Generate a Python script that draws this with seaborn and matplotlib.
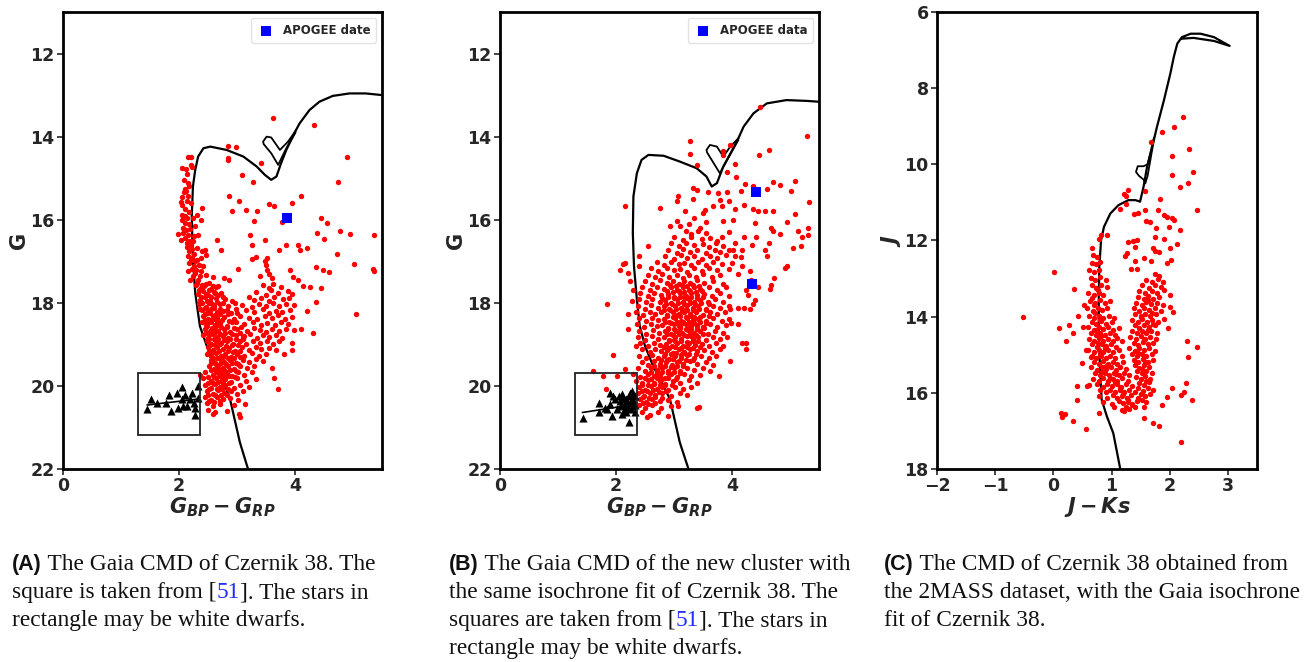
import matplotlib
matplotlib.use("Agg")
import matplotlib.pyplot as plt
import seaborn as sns
import numpy as np
import pandas as pd
from matplotlib.patches import Rectangle

# ---------------- DATA ----------------
# Panel A : Gaia CMD of Czernik 38
a_red = [
    (3.62,13.56),(4.32,13.72),(2.85,14.22),(2.99,14.24),(2.85,14.52),(2.84,14.57),(3.42,14.64),(4.89,14.50),
    (3.09,14.92),(3.28,15.10),(4.74,15.10),(4.10,15.42),(2.86,15.44),(3.03,15.55),(3.55,15.62),(3.63,15.68),
    (3.95,15.60),(3.16,15.76),(3.35,15.80),(2.91,15.80),(3.30,16.02),(3.78,16.06),(4.45,15.96),(4.55,16.08),
    (4.77,16.28),(4.94,16.34),(4.38,16.32),(5.37,16.36),(3.23,16.36),(3.49,16.48),(2.65,16.48),(4.50,16.46),
    (3.25,16.62),(3.84,16.62),(4.05,16.60),(4.20,16.68),(4.09,16.72),(3.73,16.72),(2.72,16.74),(4.73,16.82),
    (3.32,16.90),(3.26,16.94),(3.51,16.92),(5.01,17.06),(4.37,17.14),(4.48,17.22),(4.58,17.26),(5.34,17.18),
    (5.36,17.24),(3.91,17.22),(3.01,17.18),(3.97,17.38),(4.06,17.44),(4.14,17.60),(4.26,17.62),(4.45,17.65),
    (2.59,17.38),(2.78,17.40),(2.87,17.46),(4.37,17.98),(4.21,18.20),(5.06,18.28),(4.11,18.62),(3.99,18.66),
    (4.31,18.72),(3.94,18.96),(3.95,19.14),(3.81,19.22),(3.12,18.80),(3.64,19.82),(3.70,20.08),(3.14,20.43),
    (3.03,20.68),(3.05,20.76),(2.59,20.68),(2.36,19.74),
    (3.48,17.00),(3.50,17.10),(3.52,17.20),(3.55,17.30),(3.40,17.35),(3.60,17.40),
    # upper main sequence strip
    (2.15,14.48),(2.21,14.48),(2.05,14.76),(2.12,14.78),(2.20,14.68),(2.23,14.72),(2.13,14.90),(2.08,15.04),
    (2.15,15.12),(2.08,15.34),(2.12,15.32),(2.15,15.44),(2.03,15.58),(2.06,15.64),(2.13,15.56),(2.39,15.72),
    (2.10,15.74),(2.17,15.81),(2.06,15.88),(2.31,15.88),(2.38,16.00),(2.14,15.96),(2.11,16.08),(2.18,16.10),
    (2.28,16.14),(1.99,16.34),(2.07,16.32),(2.15,16.36),(2.25,16.40),(2.33,16.36),(2.03,16.48),(2.13,16.56),
    (2.20,16.60),(2.31,16.68),(2.39,16.76),(2.45,16.74),(2.47,16.84),(2.18,16.76),(2.15,16.88),(2.22,16.92),
    (2.31,16.96),(2.38,16.92),(2.18,17.04),(2.25,17.12),(2.34,17.08),(2.42,17.12),(2.16,17.24),(2.28,17.28),
    (2.36,17.36),(2.46,17.32),(2.19,17.44),(2.31,17.52),(2.40,17.58),(2.51,17.52),(2.59,17.60),(2.62,17.76),
    (2.07,16.20),(2.12,16.25),(2.19,16.22),(2.10,16.45),(2.17,16.50),(2.24,16.52),(2.14,16.65),(2.22,16.70),
    (2.26,16.82),(2.20,16.98),(2.28,17.00),(2.22,17.18),(2.30,17.20),(2.38,17.24),(2.24,17.36),(2.33,17.44),
    (2.10,15.25),(2.18,15.20),(2.06,15.45),(2.20,15.60),(2.10,15.90),(2.24,15.95),(2.05,16.00),
    # dense part
    (2.30,17.57),(2.38,17.64),(2.47,17.55),(2.55,17.66),(2.68,17.60),(3.45,17.58),(3.55,17.65),(3.62,17.54),(3.75,17.62),
    (2.33,17.78),(2.42,17.71),(2.50,17.80),(2.60,17.73),(2.72,17.77),(3.33,17.74),(3.50,17.80),(3.58,17.70),(3.70,17.76),(3.88,17.72),(3.95,17.79),
    (2.36,17.93),(2.44,17.86),(2.53,17.95),(2.63,17.88),(2.80,17.92),(3.20,17.87),(3.30,17.94),(3.42,17.89),(3.55,17.96),(3.63,17.86),(3.80,17.92),(3.90,17.88),
    (2.35,18.02),(2.46,18.09),(2.52,18.00),(2.60,18.07),(2.70,18.03),(2.85,18.08),(2.96,18.01),(3.08,18.06),(3.26,18.10),(3.38,18.02),(3.50,18.07),(3.62,18.00),(3.72,18.08),(3.85,18.03),(3.98,18.06),
    (2.40,18.18),(2.48,18.24),(2.56,18.16),(2.65,18.23),(2.75,18.19),(2.90,18.25),(3.15,18.17),(3.30,18.22),(3.45,18.16),(3.55,18.24),(3.68,18.19),(3.78,18.23),(3.92,18.17),
    (2.42,18.32),(2.50,18.39),(2.58,18.31),(2.66,18.37),(2.78,18.33),(2.95,18.38),(3.05,18.31),(3.20,18.36),(3.35,18.40),(3.48,18.32),(3.60,18.37),(3.70,18.30),(3.82,18.38),(3.95,18.34),
    (2.40,18.47),(2.47,18.54),(2.55,18.46),(2.62,18.53),(2.70,18.48),(2.82,18.55),(2.92,18.47),(3.12,18.52),(3.28,18.45),(3.42,18.53),(3.52,18.48),(3.65,18.54),(3.75,18.46),(3.88,18.51),
    (2.45,18.62),(2.53,18.69),(2.60,18.61),(2.68,18.67),(2.78,18.63),(2.88,18.70),(3.00,18.62),(3.18,18.68),(3.30,18.61),(3.40,18.66),(3.50,18.70),(3.60,18.62),(3.72,18.67),(3.85,18.63),
    (2.42,18.78),(2.50,18.84),(2.58,18.76),(2.66,18.83),(2.75,18.79),(2.85,18.85),(2.98,18.77),(3.10,18.82),(3.22,18.76),(3.35,18.84),(3.45,18.78),(3.55,18.83),(3.68,18.77),(3.78,18.84),
    (2.48,18.92),(2.56,18.99),(2.64,18.91),(2.72,18.97),(2.82,18.93),(2.93,19.00),(3.05,18.92),(3.15,18.98),(3.28,18.91),(3.40,18.96),(3.52,18.93),(3.62,18.99),(3.72,18.92),
    (2.50,19.07),(2.58,19.14),(2.66,19.06),(2.76,19.12),(2.86,19.08),(2.97,19.15),(3.08,19.07),(3.20,19.13),(3.32,19.06),(3.42,19.12),(3.55,19.08),(3.68,19.14),
    (2.48,19.22),(2.55,19.29),(2.63,19.21),(2.72,19.27),(2.80,19.23),(2.90,19.30),(3.00,19.22),(3.12,19.28),(3.25,19.21),(3.38,19.27),(3.50,19.24),
    (2.55,19.37),(2.62,19.44),(2.70,19.36),(2.78,19.42),(2.88,19.38),(2.98,19.45),(3.10,19.37),(3.20,19.43),(3.32,19.36),(3.45,19.41),
    (2.52,19.52),(2.60,19.59),(2.68,19.51),(2.76,19.57),(2.85,19.53),(2.95,19.60),(3.05,19.52),(3.18,19.58),(3.30,19.51),(3.60,19.56),
    (2.45,19.67),(2.58,19.74),(2.66,19.66),(2.74,19.72),(2.82,19.68),(2.92,19.75),(3.02,19.67),(3.12,19.73),(3.25,19.66),
    (2.42,19.82),(2.55,19.89),(2.64,19.81),(2.72,19.87),(2.80,19.83),(2.90,19.90),(3.00,19.82),(3.15,19.88),(3.32,19.84),
    (2.45,19.97),(2.55,20.04),(2.62,19.96),(2.70,20.02),(2.80,19.98),(2.95,20.05),(3.05,19.97),(3.20,20.03),
    (2.48,20.12),(2.58,20.19),(2.68,20.11),(2.78,20.17),(2.90,20.13),(3.00,20.20),(3.10,20.12),
    (2.45,20.27),(2.55,20.34),(2.65,20.26),(2.75,20.32),(2.88,20.28),(3.02,20.33),
    (2.48,20.42),(2.58,20.49),(2.70,20.43),(2.95,20.47),
    (2.50,20.58),(2.62,20.64),(2.82,20.60),
    (2.34,17.68),(2.43,17.60),(2.51,17.70),(2.64,17.62),
    (2.38,17.85),(2.47,17.78),(2.56,17.86),(2.67,17.80),(2.76,17.86),
    (2.40,18.00),(2.49,17.95),(2.57,18.02),(2.66,17.97),(2.76,18.00),(2.91,17.96),
    (2.37,18.14),(2.44,18.12),(2.52,18.20),(2.61,18.13),(2.70,18.14),(2.82,18.18),(2.98,18.14),
    (2.45,18.28),(2.54,18.25),(2.62,18.29),(2.71,18.26),(2.84,18.28),(3.00,18.25),
    (2.44,18.42),(2.51,18.45),(2.59,18.40),(2.66,18.44),(2.74,18.41),(2.87,18.43),(2.99,18.45),
    (2.49,18.57),(2.57,18.60),(2.64,18.57),(2.73,18.59),(2.83,18.58),(2.95,18.60),(3.07,18.58),
    (2.46,18.72),(2.54,18.75),(2.62,18.71),(2.70,18.74),(2.80,18.72),(2.92,18.74),(3.05,18.72),
    (2.52,18.87),(2.60,18.88),(2.68,18.86),(2.77,18.89),(2.88,18.87),(2.99,18.88),(3.10,18.87),
    (2.54,19.02),(2.62,19.02),(2.71,19.00),(2.81,19.03),(2.91,19.02),(3.02,19.01),
    (2.52,19.17),(2.60,19.18),(2.69,19.17),(2.84,19.17),(2.93,19.19),(3.05,19.16),
    (2.58,19.32),(2.66,19.33),(2.75,19.31),(2.84,19.34),(2.94,19.32),(3.05,19.30),
    (2.56,19.46),(2.64,19.48),(2.73,19.46),(2.81,19.48),(2.91,19.46),(3.02,19.47),
    (2.55,19.62),(2.63,19.63),(2.71,19.61),(2.79,19.64),(2.88,19.62),(2.98,19.63),
    (2.50,19.78),(2.60,19.78),(2.69,19.76),(2.77,19.79),(2.86,19.77),(2.96,19.78),
    (2.50,19.92),(2.59,19.93),(2.67,19.91),(2.75,19.94),(2.86,19.92),
    (2.52,20.07),(2.65,20.07),(2.74,20.08),(2.84,20.07),
    (2.50,20.22),(2.62,20.22),(2.72,20.23),(2.83,20.22),
    (2.52,20.37),(2.60,20.38),(2.70,20.36),
]
a_wd = [(1.45,20.56),(1.52,20.32),(1.62,20.40),(1.77,20.42),(1.83,20.22),(1.86,20.60),(1.96,20.16),(2.05,20.02),
        (2.07,20.48),(1.99,20.52),(2.11,20.22),(2.13,20.48),(2.23,20.18),(2.25,20.40),(2.28,20.52),(2.27,20.70),
        (2.33,20.00),(2.32,20.28),(2.05,20.32),(2.19,20.32)]
a_apogee = [(3.86,15.97)]
a_iso_x = [3.19,3.05,2.88,2.71,2.48,2.36,2.28,2.24,2.22,2.24,2.28,2.33,2.42,2.54,2.82,3.11,3.34,3.48,3.59,3.68,3.76,3.85,4.01,
           4.08,4.25,4.42,4.65,4.94,5.22,5.50]
a_iso_y = [22.0,21.36,20.32,19.68,19.04,18.56,17.76,16.96,15.92,15.20,14.80,14.48,14.28,14.24,14.32,14.48,14.72,14.92,15.04,14.96,14.64,14.32,13.86,
           13.68,13.36,13.16,13.02,12.96,12.96,13.00]
a_loop_x = [4.01,3.88,3.74,3.59,3.51,3.45,3.46,3.59,3.71,3.85,4.01]
a_loop_y = [13.86,14.12,14.32,14.02,14.00,14.12,14.18,14.40,14.68,14.28,13.90]
a_wd_line_x = [1.45, 2.31]
a_wd_line_y = [20.46, 20.32]

# Panel B : new cluster
b_red = [
    (4.48,13.28),(5.29,13.98),(3.28,14.10),(3.28,14.42),(3.85,14.34),(3.84,14.44),(3.97,14.20),(4.63,14.32),(4.47,14.44),
    (3.39,14.68),(4.05,14.66),(3.91,14.84),(4.07,14.96),(4.22,15.14),(4.37,15.18),(4.71,15.10),(4.83,15.16),(5.09,15.06),
    (3.33,15.24),(3.39,15.28),(3.59,15.34),(3.76,15.36),(3.92,15.34),(4.16,15.32),(4.61,15.26),(5.02,15.32),(3.07,15.44),
    (3.06,15.56),(3.32,15.50),(3.79,15.52),(3.95,15.56),(4.21,15.64),(5.32,15.58),(3.53,15.76),(3.68,15.68),(3.82,15.68),
    (4.06,15.74),(4.37,15.74),(4.45,15.80),(4.57,15.80),(4.71,15.80),(2.76,15.72),(3.19,15.80),(5.09,15.86),(2.56,16.64),
    (2.16,15.68),(2.93,16.16),(3.05,16.04),(3.85,16.04),(4.01,16.00),(4.39,16.08),(4.94,16.06),(4.68,16.20),(4.70,16.28),
    (5.31,16.20),(5.14,16.26),(4.82,16.34),(4.20,16.42),(4.41,16.42),(5.20,16.42),(5.31,16.36),(4.63,16.56),(4.34,16.60),
    (4.18,16.72),(4.02,16.72),(5.19,16.64),(5.05,16.68),(4.57,16.74),(4.05,16.88),(4.60,16.88),(4.18,17.12),(4.91,17.16),
    (4.94,17.12),(4.31,17.24),(4.32,17.44),(4.73,17.40),(4.68,17.56),(4.44,17.62),(4.66,17.66),(4.25,17.68),(4.28,17.80),
    (4.40,17.94),(4.37,18.04),(4.31,18.16),(4.11,18.12),(4.20,18.12),(3.97,18.16),(4.11,18.52),(3.99,18.48),(4.17,18.96),
    (4.24,19.12),(4.25,18.96),(3.97,19.40),(3.78,19.76),(1.84,18.02),(1.95,19.26),(1.61,19.64),(1.78,19.76),(2.01,19.76),
    (2.16,19.60),(1.83,20.08),(3.39,20.52),(3.43,20.50),(3.07,20.48),(2.90,20.72),(2.53,20.76),(2.07,17.22),(2.16,17.04),
    (2.12,17.06),(2.21,17.28),(2.24,17.48),(2.39,16.88),(2.40,17.12),(2.30,17.68),(2.27,17.96),(2.20,18.28),(2.21,18.64),(2.34,19.04),
    (3.25,16.10),(3.35,15.95),(3.45,16.20),(3.10,16.15),(3.55,16.05),(3.50,15.85),(3.95,16.30),(4.05,16.55),(4.15,16.90),(4.10,17.30),(4.00,17.05),
    # dense cloud
    (3.20,16.27),(3.30,16.34),(3.42,16.26),(3.55,16.33),
    (3.00,16.42),(3.15,16.49),(3.30,16.41),(3.48,16.47),(3.62,16.43),(3.75,16.50),(3.82,16.41),
    (2.95,16.57),(3.08,16.64),(3.20,16.56),(3.35,16.62),(3.50,16.58),(3.60,16.65),(3.72,16.57),(3.85,16.63),
    (2.90,16.72),(3.05,16.79),(3.15,16.71),(3.28,16.77),(3.40,16.73),(3.55,16.80),(3.70,16.72),(3.80,16.78),(3.95,16.74),
    (2.85,16.87),(3.00,16.94),(3.12,16.86),(3.22,16.92),(3.35,16.88),(3.48,16.95),(3.62,16.87),(3.75,16.93),(3.90,16.86),
    (2.70,17.02),(2.82,17.09),(2.95,17.01),(3.08,17.07),(3.18,17.03),(3.30,17.10),(3.42,17.02),(3.55,17.08),(3.68,17.01),(3.82,17.06),
    (2.60,17.17),(2.72,17.24),(2.88,17.16),(3.00,17.22),(3.10,17.18),(3.22,17.25),(3.35,17.17),(3.48,17.23),(3.60,17.16),(3.75,17.22),(3.95,17.18),
    (2.55,17.32),(2.68,17.39),(2.80,17.31),(2.92,17.37),(3.05,17.33),(3.15,17.40),(3.25,17.32),(3.38,17.38),(3.50,17.31),(3.65,17.37),(3.80,17.33),
    (2.50,17.47),(2.62,17.54),(2.75,17.46),(2.88,17.52),(2.98,17.48),(3.08,17.55),(3.18,17.47),(3.28,17.53),(3.40,17.46),(3.52,17.52),(3.68,17.48),(3.85,17.54),
    (2.45,17.62),(2.58,17.69),(2.70,17.61),(2.82,17.67),(2.95,17.63),(3.05,17.70),(3.15,17.62),(3.25,17.68),(3.35,17.61),(3.45,17.67),(3.60,17.63),(3.75,17.69),(3.90,17.62),
    (2.42,17.77),(2.55,17.84),(2.65,17.76),(2.78,17.82),(2.90,17.78),(3.00,17.85),(3.10,17.77),(3.20,17.83),(3.30,17.76),(3.40,17.82),(3.52,17.78),(3.65,17.84),(3.80,17.77),(3.95,17.83),
    (2.40,17.92),(2.52,17.99),(2.62,17.91),(2.75,17.97),(2.85,17.93),(2.95,18.00),(3.05,17.92),(3.15,17.98),(3.25,17.91),(3.35,17.97),(3.45,17.93),(3.58,17.99),(3.70,17.92),(3.85,17.98),
    (2.38,18.07),(2.50,18.14),(2.60,18.06),(2.72,18.12),(2.82,18.08),(2.92,18.15),(3.02,18.07),(3.12,18.13),(3.22,18.06),(3.32,18.12),(3.42,18.08),(3.55,18.14),(3.68,18.07),(3.80,18.13),(3.95,18.08),
    (2.35,18.22),(2.46,18.29),(2.58,18.21),(2.68,18.27),(2.78,18.23),(2.88,18.30),(2.98,18.22),(3.08,18.28),(3.18,18.21),(3.28,18.27),(3.38,18.23),(3.50,18.29),(3.62,18.22),(3.75,18.28),(3.88,18.23),
    (2.40,18.37),(2.52,18.44),(2.62,18.36),(2.72,18.42),(2.82,18.38),(2.92,18.45),(3.02,18.37),(3.12,18.43),(3.22,18.36),(3.32,18.42),(3.42,18.38),(3.55,18.44),(3.68,18.37),(3.82,18.43),(3.95,18.38),
    (2.36,18.52),(2.48,18.59),(2.60,18.51),(2.70,18.57),(2.80,18.53),(2.90,18.60),(3.00,18.52),(3.10,18.58),(3.20,18.51),(3.30,18.57),(3.40,18.53),(3.50,18.59),(3.62,18.52),(3.75,18.58),(3.90,18.53),
    (2.40,18.67),(2.52,18.74),(2.64,18.66),(2.74,18.72),(2.84,18.68),(2.94,18.75),(3.04,18.67),(3.14,18.73),(3.24,18.66),(3.34,18.72),(3.45,18.68),(3.58,18.74),(3.70,18.67),(3.85,18.73),
    (2.38,18.82),(2.50,18.89),(2.62,18.81),(2.72,18.87),(2.82,18.83),(2.92,18.90),(3.02,18.82),(3.12,18.88),(3.22,18.81),(3.32,18.87),(3.42,18.83),(3.55,18.89),(3.68,18.82),(3.80,18.88),(3.92,18.83),
    (2.42,18.97),(2.55,19.04),(2.66,18.96),(2.76,19.02),(2.86,18.98),(2.96,19.05),(3.06,18.97),(3.16,19.03),(3.26,18.96),(3.36,19.02),(3.48,18.98),(3.60,19.04),(3.72,18.97),(3.85,19.03),
    (2.45,19.12),(2.58,19.19),(2.68,19.11),(2.78,19.17),(2.88,19.13),(2.98,19.20),(3.08,19.12),(3.18,19.18),(3.28,19.11),(3.40,19.17),(3.52,19.13),(3.65,19.19),(3.80,19.12),
    (2.40,19.27),(2.52,19.34),(2.62,19.26),(2.72,19.32),(2.82,19.28),(2.92,19.35),(3.02,19.27),(3.12,19.33),(3.22,19.26),(3.34,19.32),(3.46,19.28),(3.60,19.34),(3.72,19.27),
    (2.45,19.42),(2.56,19.49),(2.66,19.41),(2.76,19.47),(2.86,19.43),(2.96,19.50),(3.06,19.42),(3.16,19.48),(3.28,19.41),(3.40,19.47),(3.55,19.43),(3.68,19.49),
    (2.38,19.57),(2.50,19.64),(2.60,19.56),(2.70,19.62),(2.80,19.58),(2.90,19.65),(3.00,19.57),(3.10,19.63),(3.22,19.56),(3.35,19.62),(3.50,19.58),(3.62,19.64),
    (2.30,19.72),(2.42,19.79),(2.55,19.71),(2.65,19.77),(2.75,19.73),(2.85,19.80),(2.95,19.72),(3.05,19.78),(3.18,19.71),(3.30,19.77),(3.45,19.73),
    (2.35,19.87),(2.45,19.94),(2.55,19.86),(2.65,19.92),(2.75,19.88),(2.85,19.95),(2.98,19.87),(3.10,19.93),(3.25,19.86),(3.40,19.92),
    (2.40,20.02),(2.50,20.09),(2.60,20.01),(2.70,20.07),(2.80,20.03),(2.90,20.10),(3.02,20.02),(3.15,20.08),(3.30,20.03),
    (2.38,20.17),(2.48,20.24),(2.58,20.16),(2.68,20.22),(2.80,20.18),(2.95,20.25),(3.10,20.17),(3.22,20.23),
    (2.42,20.32),(2.52,20.39),(2.62,20.31),(2.75,20.37),(2.90,20.33),(3.05,20.38),
    (2.40,20.47),(2.50,20.54),(2.62,20.46),(2.78,20.52),(2.95,20.48),
    (2.45,20.62),(2.58,20.69),(2.72,20.63),
    (3.05,18.30),(3.15,18.45),(3.25,18.60),(3.35,18.35),(3.20,18.15),(3.30,18.80),(3.10,18.70),(3.00,18.90),(3.40,18.55),
    (3.28,18.00),(3.18,17.85),(3.38,18.20),(3.08,18.55),(3.22,19.05),(3.12,19.25),
    (2.93,17.58),(3.03,17.60),(3.13,17.57),(3.23,17.60),(3.33,17.57),(3.43,17.60),
    (2.88,17.72),(2.98,17.74),(3.08,17.71),(3.18,17.74),(3.28,17.71),(3.38,17.74),(3.48,17.72),
    (2.80,17.88),(2.90,17.87),(3.00,17.89),(3.10,17.86),(3.20,17.89),(3.30,17.87),(3.40,17.89),(3.50,17.86),
    (2.87,18.02),(2.97,18.04),(3.07,18.01),(3.17,18.03),(3.37,18.03),(3.47,18.01),(3.60,18.04),
    (2.83,18.17),(2.93,18.18),(3.03,18.16),(3.13,18.19),(3.23,18.17),(3.33,18.18),(3.43,18.16),(3.56,18.18),
    (2.88,18.32),(2.98,18.33),(3.10,18.31),(3.20,18.33),(3.30,18.31),(3.45,18.33),(3.60,18.31),
    (2.85,18.47),(2.95,18.48),(3.05,18.46),(3.15,18.49),(3.25,18.47),(3.35,18.48),(3.45,18.46),(3.55,18.48),
    (2.90,18.62),(3.00,18.63),(3.10,18.61),(3.20,18.64),(3.30,18.62),(3.40,18.63),(3.52,18.61),
    (2.88,18.76),(2.98,18.78),(3.08,18.76),(3.18,18.77),(3.28,18.75),(3.38,18.78),(3.50,18.76),
    (2.92,18.92),(3.02,18.93),(3.12,18.91),(3.22,18.94),(3.32,18.92),(3.42,18.93),
    (2.82,19.07),(2.92,19.08),(3.02,19.06),(3.12,19.09),(3.22,19.07),(3.32,19.08),(3.45,19.06),
    (2.84,19.22),(2.94,19.23),(3.04,19.21),(3.14,19.24),(3.26,19.22),(3.38,19.23),
    (2.78,19.37),(2.88,19.38),(2.98,19.36),(3.08,19.39),(3.20,19.37),(3.33,19.38),
    (2.65,19.52),(2.75,19.53),(2.85,19.51),(2.95,19.54),(3.05,19.52),(3.15,19.53),
    (2.60,19.67),(2.70,19.68),(2.80,19.66),(2.90,19.69),(3.00,19.67),(3.10,19.68),
    (2.50,19.82),(2.60,19.83),(2.70,19.81),(2.80,19.84),(2.90,19.82),(3.03,19.83),
    (2.45,19.97),(2.55,19.98),(2.65,19.96),(2.75,19.99),(2.85,19.97),(2.96,19.98),
    (2.44,20.12),(2.54,20.13),(2.64,20.11),(2.74,20.14),(2.86,20.12),
    (2.46,20.27),(2.57,20.28),(2.68,20.26),(2.80,20.29),
    (2.46,20.42),(2.56,20.43),(2.68,20.41),
]
b_wd = [(1.43,20.78),(1.70,20.40),(1.71,20.64),(1.81,20.52),(1.89,20.16),(1.93,20.72),(1.95,20.24),(1.90,20.44),
        (2.01,20.56),(2.07,20.36),(2.11,20.20),(2.16,20.44),(2.18,20.64),(2.22,20.88),(2.24,20.16),(2.27,20.32),
        (2.30,20.48),(2.33,20.24),(2.21,20.52),(2.10,20.68),(1.98,20.32),(2.18,20.32),(2.33,20.64),(2.27,20.12),
        (1.84,20.56),(2.05,20.25),(2.12,20.30),(2.20,20.40),(2.25,20.55),(2.30,20.35),(2.15,20.55),(2.28,20.20),
        (2.32,20.45),(2.22,20.25),(2.08,20.48)]
b_apogee = [(4.41,15.33),(4.34,17.54)]
b_iso_x = [3.25,3.10,2.93,2.79,2.64,2.50,2.41,2.36,2.31,2.29,2.30,2.36,2.44,2.56,2.82,3.10,3.39,3.56,3.65,3.74,3.85,3.99,4.11,
           4.20,4.37,4.60,4.94,5.29,5.50]
b_iso_y = [22.0,21.36,20.32,19.92,19.52,19.04,18.56,17.92,17.12,16.32,15.44,14.88,14.56,14.44,14.46,14.60,14.76,14.96,15.20,15.12,14.72,14.36,14.04,
           13.76,13.44,13.20,13.12,13.14,13.16]
b_loop_x = [4.11,3.97,3.85,3.74,3.62,3.56,3.57,3.79,4.11]
b_loop_y = [14.04,14.24,14.48,14.24,14.20,14.32,14.38,14.88,14.08]
b_wd_line_x = [1.42, 2.30]
b_wd_line_y = [20.64, 20.45]

# Panel C : 2MASS CMD
c_red = [
    (2.22,8.75),(2.07,9.02),(1.87,9.15),(1.68,9.41),(2.33,9.60),(2.04,9.78),(2.40,10.20),(2.04,10.27),(2.32,10.48),
    (2.17,10.59),(1.58,10.69),(1.29,10.68),(1.22,10.78),(1.25,10.82),(1.84,10.92),(1.15,11.16),(1.24,11.03),(2.47,11.20),
    (1.58,11.20),(1.80,11.20),(1.38,11.31),(1.45,11.29),(1.90,11.33),(1.95,11.38),(2.04,11.42),(2.07,11.46),(1.59,11.48),
    (1.66,11.51),(1.98,11.64),(1.77,11.67),(2.17,11.73),(1.74,11.92),(1.90,11.97),(1.28,12.03),(1.37,12.01),(1.44,11.99),
    (2.13,12.10),(2.00,12.20),(1.71,12.20),(1.74,12.27),(1.41,12.16),(1.26,12.34),(1.23,12.41),(1.81,12.29),(1.55,12.47),
    (2.03,12.50),(1.95,12.60),(1.41,12.53),(1.68,12.53),(1.33,12.76),(1.43,12.76),(0.01,12.82),(0.93,11.86),(0.82,11.86),
    (0.78,11.97),(0.67,12.20),(0.36,13.28),(-0.52,14.00),(0.09,14.29),(0.27,14.22),(0.33,14.44),(0.21,14.63),(0.42,13.98),
    (0.53,13.69),(0.51,14.26),(0.40,15.83),(0.40,16.18),(0.57,15.83),(0.62,15.79),(0.13,16.52),(0.14,16.64),(0.20,16.56),
    (0.34,16.75),(0.56,16.95),(0.49,15.22),(0.56,14.87),(0.64,15.05),(2.20,17.29),(1.81,16.88),(1.71,16.80),(2.39,16.18),
    (2.20,16.05),(2.24,15.97),(2.28,15.73),(2.04,15.86),(1.95,16.10),(1.87,16.31),(2.29,14.63),(2.47,14.80),(2.32,15.05),
    (1.97,14.30),(2.00,13.74),(2.05,13.88),(2.00,13.43),(1.90,13.30),(1.08,15.50),(1.55,16.67),(0.78,16.53),
    # left strip
    (0.68,12.38),(0.75,12.44),(0.66,12.58),(0.73,12.63),(0.80,12.57),(0.62,12.78),(0.70,12.84),(0.78,12.77),
    (0.65,12.98),(0.72,13.04),(0.80,12.97),(0.90,13.03),(0.67,13.18),(0.74,13.24),(0.82,13.17),(0.92,13.22),
    (0.60,13.38),(0.70,13.44),(0.78,13.37),(0.85,13.42),(0.63,13.58),(0.72,13.64),(0.80,13.57),(0.88,13.63),(0.98,13.58),
    (0.58,13.78),(0.68,13.84),(0.76,13.77),(0.84,13.83),(0.93,13.78),
    (0.62,13.98),(0.70,14.04),(0.78,13.97),(0.86,14.03),(0.95,13.98),(1.05,14.04),
    (0.66,14.13),(0.74,14.19),(0.82,14.12),(0.90,14.18),(1.00,14.13),
    (0.60,14.28),(0.70,14.34),(0.78,14.27),(0.86,14.33),(0.94,14.28),(1.02,14.34),(1.12,14.29),
    (0.65,14.43),(0.73,14.49),(0.81,14.42),(0.89,14.48),(0.97,14.43),(1.06,14.49),
    (0.62,14.58),(0.70,14.64),(0.78,14.57),(0.86,14.63),(0.94,14.58),(1.02,14.64),(1.10,14.57),(1.18,14.63),
    (0.67,14.73),(0.75,14.79),(0.83,14.72),(0.91,14.78),(0.99,14.73),(1.08,14.79),
    (0.60,14.88),(0.70,14.94),(0.78,14.87),(0.86,14.93),(0.94,14.88),(1.02,14.94),(1.12,14.88),
    (0.66,15.03),(0.74,15.09),(0.82,15.02),(0.90,15.08),(0.98,15.03),(1.06,15.09),(1.18,15.03),
    (0.70,15.18),(0.78,15.24),(0.86,15.17),(0.94,15.23),(1.02,15.18),(1.10,15.24),(1.20,15.18),
    (0.65,15.33),(0.75,15.39),(0.83,15.32),(0.91,15.38),(0.99,15.33),(1.07,15.39),(1.15,15.32),(1.25,15.38),
    (0.72,15.48),(0.80,15.54),(0.88,15.47),(0.96,15.53),(1.04,15.48),(1.12,15.54),(1.22,15.47),(1.30,15.53),
    (0.68,15.63),(0.78,15.69),(0.86,15.62),(0.94,15.68),(1.02,15.63),(1.10,15.69),(1.18,15.62),(1.28,15.68),
    (0.75,15.78),(0.85,15.84),(0.93,15.77),(1.01,15.83),(1.09,15.78),(1.17,15.84),(1.25,15.77),(1.35,15.83),
    (0.80,15.93),(0.90,15.99),(0.98,15.92),(1.06,15.98),(1.14,15.93),(1.22,15.99),(1.30,15.92),(1.40,15.98),
    (0.78,16.08),(0.92,16.14),(1.02,16.07),(1.10,16.13),(1.18,16.08),(1.26,16.14),(1.34,16.07),(1.45,16.13),
    (0.85,16.23),(1.00,16.29),(1.12,16.22),(1.20,16.28),(1.28,16.23),(1.36,16.29),(1.44,16.22),
    (1.05,16.38),(1.18,16.44),(1.24,16.37),(1.30,16.43),(1.40,16.38),
    (0.72,13.90),(0.80,14.08),(0.74,14.35),(0.82,14.52),(0.76,14.68),(0.88,14.82),(0.80,15.00),(0.90,15.30),
    (0.84,15.45),(0.98,15.60),(1.06,15.72),(1.14,15.88),(1.20,16.02),(1.28,16.18),(1.36,16.32),(1.22,16.48),
    (0.70,13.70),(0.66,13.50),(0.76,13.30),
    # right strip
    (1.75,12.88),(1.82,12.94),(1.60,13.03),(1.70,13.09),(1.80,13.02),(1.88,13.08),
    (1.52,13.18),(1.65,13.24),(1.75,13.17),(1.85,13.23),(1.48,13.33),(1.58,13.39),(1.70,13.32),(1.78,13.38),
    (1.45,13.48),(1.55,13.54),(1.62,13.47),(1.72,13.53),(1.82,13.48),
    (1.42,13.63),(1.52,13.69),(1.60,13.62),(1.68,13.68),(1.78,13.63),(1.88,13.69),
    (1.38,13.78),(1.48,13.84),(1.56,13.77),(1.65,13.83),(1.75,13.78),(1.85,13.84),
    (1.40,13.93),(1.50,13.99),(1.58,13.92),(1.66,13.98),(1.76,13.93),
    (1.35,14.08),(1.45,14.14),(1.53,14.07),(1.61,14.13),(1.70,14.08),(1.80,14.14),(1.90,14.07),
    (1.40,14.23),(1.48,14.29),(1.56,14.22),(1.64,14.28),(1.74,14.23),
    (1.36,14.38),(1.44,14.44),(1.52,14.37),(1.60,14.43),(1.68,14.38),(1.78,14.44),
    (1.32,14.53),(1.42,14.59),(1.50,14.52),(1.58,14.58),(1.66,14.53),(1.76,14.59),
    (1.38,14.68),(1.46,14.74),(1.54,14.67),(1.62,14.73),(1.72,14.68),
    (1.30,14.83),(1.40,14.89),(1.48,14.82),(1.56,14.88),(1.64,14.83),(1.75,14.89),
    (1.35,14.98),(1.44,15.04),(1.52,14.97),(1.60,15.03),(1.70,14.98),
    (1.38,15.13),(1.46,15.19),(1.54,15.12),(1.62,15.18),(1.72,15.13),
    (1.40,15.28),(1.48,15.34),(1.56,15.27),(1.65,15.33),
    (1.44,15.43),(1.52,15.49),(1.60,15.42),(1.70,15.48),
    (1.42,15.58),(1.50,15.64),(1.58,15.57),(1.66,15.63),
    (1.48,15.73),(1.56,15.79),(1.64,15.72),
    (1.46,15.88),(1.54,15.94),(1.62,15.87),(1.72,15.93),
    (1.50,16.03),(1.58,16.09),(1.66,16.02),(1.52,16.18),(1.60,16.24),(1.55,16.38),
    (1.50,14.00),(1.62,14.35),(1.55,14.62),(1.45,14.95),(1.58,15.20),(1.52,15.38),(1.60,15.68),(1.70,13.90),
    (1.62,13.55),(1.72,14.20),
]
c_iso_x = [1.15,1.03,0.92,0.83,0.80,0.78,0.78,0.79,0.82,0.87,0.98,1.12,1.29,1.41,1.49,1.55,1.61,1.70,1.78,1.90,2.01,
           2.07,2.13,2.21,2.36,2.53,2.76,3.03,2.76,2.41,2.21]
c_iso_y = [18.0,17.06,16.62,16.18,15.31,14.44,13.56,12.69,11.99,11.64,11.29,11.07,10.94,10.94,10.98,10.59,10.07,9.54,9.02,8.32,7.62,
           7.18,6.83,6.66,6.57,6.57,6.66,6.89,6.76,6.68,6.70]
c_loop_x = [1.73,1.62,1.55,1.45,1.42,1.47,1.55,1.58,1.62,1.70,1.73]
c_loop_y = [9.30,10.00,10.05,10.05,10.20,10.30,10.40,10.50,10.30,9.60,9.30]

wd_box = (1.30, 19.70, 1.06, 1.48)   # x0, y0, width, height (data units)

captions = {
    "A": [[("(A)", "b"), (" The Gaia CMD of Czernik 38. The", "s")],
          [("square is taken from [", "s"), ("51", "l"), ("]. The stars in", "s")],
          [("rectangle may be white dwarfs.", "s")]],
    "B": [[("(B)", "b"), (" The Gaia CMD of the new cluster with", "s")],
          [("the same isochrone fit of Czernik 38. The", "s")],
          [("squares are taken from [", "s"), ("51", "l"), ("]. The stars in", "s")],
          [("rectangle may be white dwarfs.", "s")]],
    "C": [[("(C)", "b"), (" The CMD of Czernik 38 obtained from", "s")],
          [("the 2MASS dataset, with the Gaia isochrone", "s")],
          [("fit of Czernik 38.", "s")]],
}

# ---------------- PLOT ----------------
sns.set_style("white")
plt.rcParams['font.family'] = ['DejaVu Sans']
plt.rcParams['mathtext.fontset'] = 'dejavusans'

W, H = 1314, 662
fig = plt.figure(figsize=(W / 100, H / 100), dpi=100)

def rect(l, t, r, b):
    return [l / W, 1 - b / H, (r - l) / W, (b - t) / H]

axA = fig.add_axes(rect(63, 12, 382, 469))
axB = fig.add_axes(rect(500, 12, 819, 469))
axC = fig.add_axes(rect(937, 12, 1257, 469))

def df(pts):
    return pd.DataFrame(pts, columns=["x", "y"])

RED_S = 15

def style(ax):
    for sp in ax.spines.values():
        sp.set_linewidth(2.0)
        sp.set_color("black")
    ax.tick_params(direction="out", length=4, width=1.2, labelsize=12.5, pad=2,
                   bottom=True, left=True, top=False, right=False)
    for lab in ax.get_xticklabels() + ax.get_yticklabels():
        lab.set_fontweight("bold")

def gaia_panel(ax, red, wd, apogee, iso_x, iso_y, loop_x, loop_y, lx, ly, leg):
    sns.lineplot(x=iso_x, y=iso_y, sort=False, estimator=None, color="black", lw=1.6, ax=ax)
    sns.lineplot(x=loop_x, y=loop_y, sort=False, estimator=None, color="black", lw=1.3, ax=ax)
    sns.scatterplot(data=df(red), x="x", y="y", color="#ff0000", s=RED_S, linewidth=0, ax=ax, zorder=3)
    sns.scatterplot(data=df(wd), x="x", y="y", color="black", marker="^", s=34, linewidth=0, ax=ax, zorder=4)
    sns.lineplot(x=lx, y=ly, sort=False, estimator=None, color="black", lw=1.2, ax=ax, zorder=5)
    sns.scatterplot(data=df(apogee), x="x", y="y", color="#0000ff", marker="s", s=42, linewidth=0, ax=ax,
                    label=leg, zorder=6)
    ax.add_patch(Rectangle((wd_box[0], wd_box[1]), wd_box[2], wd_box[3], fill=False,
                           edgecolor="#222222", lw=1.3, zorder=5))
    ax.set_xlim(0, 5.5)
    ax.set_ylim(22, 11)
    ax.set_xticks([0, 2, 4])
    ax.set_yticks([12, 14, 16, 18, 20, 22])
    ax.set_xlabel(r"$\mathbfit{G_{BP}-G_{RP}}$", fontsize=15, labelpad=0)
    ax.set_ylabel("G", fontsize=15, fontweight="bold", labelpad=1)
    lg = ax.legend(loc="upper right", prop={"weight": "bold", "size": 8.5}, handletextpad=0.6,
                   borderpad=0.5, handlelength=1.6, frameon=True, fancybox=True, borderaxespad=0.5)
    lg.get_frame().set_edgecolor("#dddddd")
    style(ax)

gaia_panel(axA, a_red, a_wd, a_apogee, a_iso_x, a_iso_y, a_loop_x, a_loop_y,
           a_wd_line_x, a_wd_line_y, "APOGEE date")
gaia_panel(axB, b_red, b_wd, b_apogee, b_iso_x, b_iso_y, b_loop_x, b_loop_y,
           b_wd_line_x, b_wd_line_y, "APOGEE data")

# Panel C
sns.lineplot(x=c_iso_x, y=c_iso_y, sort=False, estimator=None, color="black", lw=1.6, ax=axC)
sns.lineplot(x=c_loop_x, y=c_loop_y, sort=False, estimator=None, color="black", lw=1.3, ax=axC)
sns.scatterplot(data=df(c_red), x="x", y="y", color="#ff0000", s=RED_S, linewidth=0, ax=axC, zorder=3)
axC.set_xlim(-2, 3.5)
axC.set_ylim(18, 6)
axC.set_xticks([-2, -1, 0, 1, 2, 3])
axC.set_yticks([6, 8, 10, 12, 14, 16, 18])
axC.set_xlabel(r"$\mathbfit{J-Ks}$", fontsize=15, labelpad=0)
axC.set_ylabel(r"$\mathbfit{J}$", fontsize=15, labelpad=1)
style(axC)

# Captions
renderer = fig.canvas.get_renderer()
fonts = {
    "s": dict(family="Liberation Serif", size=16.8, color="#111111"),
    "l": dict(family="Liberation Serif", size=16.8, color="#1f2fff"),
    "b": dict(family="Liberation Sans", size=15.5, weight="bold", color="#111111"),
}
cap_x = {"A": 12, "B": 449, "C": 884}
for key, lines in captions.items():
    for i, pieces in enumerate(lines):
        x = cap_x[key]
        y = 570 + i * 28
        for txt, f in pieces:
            t = fig.text(x / W, 1 - y / H, txt, ha="left", va="baseline", **fonts[f])
            bb = t.get_window_extent(renderer)
            x = bb.x1

fig.savefig("out.png", dpi=100)
